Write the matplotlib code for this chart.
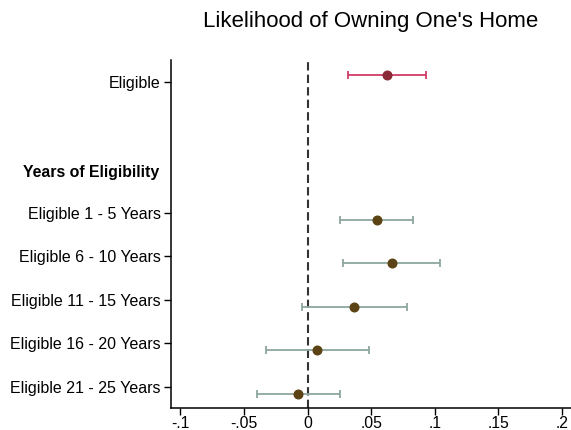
import matplotlib.pyplot as plt

plt.rcParams['font.family'] = ['Liberation Sans', 'DejaVu Sans']

# coefficient estimates with 95% intervals
overall_label = "Eligible"
overall_coef = 0.0623
overall_lo = 0.0319
overall_hi = 0.0932

group_header = "Years of Eligibility"
group_labels = ["Eligible 1 - 5 Years", "Eligible 6 - 10 Years",
                "Eligible 11 - 15 Years", "Eligible 16 - 20 Years",
                "Eligible 21 - 25 Years"]
group_coef = [0.0542, 0.0660, 0.0364, 0.0075, -0.0074]
group_lo = [0.0254, 0.0278, -0.0045, -0.0330, -0.0401]
group_hi = [0.0830, 0.1043, 0.0778, 0.0482, 0.0254]

x_ticks = [-0.1, -0.05, 0, 0.05, 0.1, 0.15, 0.2]
x_ticklabels = ["-.1", "-.05", "0", ".05", ".1", ".15", ".2"]

# row positions, top row first
overall_pos = 8
header_pos = 5.92
group_pos = [5, 4, 3, 2, 1]
offset = 0.16

fig = plt.figure(figsize=(5.71, 4.30), dpi=100)
ax = fig.add_axes([170.5 / 571, 1 - 408 / 430, 1 - 170.5 / 571, (408 - 60) / 430])

ax.axvline(0, color='#333333', lw=1.5, ls=(0, (4, 2)), zorder=1)

# overall estimate
ax.errorbar([overall_coef], [overall_pos + offset],
            xerr=[[overall_coef - overall_lo], [overall_hi - overall_coef]],
            fmt='o', color='#8c2a38', ecolor='#d13c64', elinewidth=1.3,
            capsize=3, capthick=1.3, markersize=6.2, zorder=3)

# estimates by years of eligibility
yg = [p - offset for p in group_pos]
xerr = [[c - l for c, l in zip(group_coef, group_lo)],
        [h - c for c, h in zip(group_coef, group_hi)]]
ax.errorbar(group_coef, yg, xerr=xerr,
            fmt='o', color='#5c4315', ecolor='#8ea79e', elinewidth=1.3,
            capsize=3, capthick=1.3, markersize=6.2, zorder=3)

ax.set_xlim(-0.1077, 0.207)
ax.set_ylim(0.52, 8.5)

ax.set_xticks(x_ticks)
ax.set_xticklabels(x_ticklabels, fontsize=11.3)
ax.set_yticks([overall_pos] + group_pos)
ax.set_yticklabels([overall_label] + group_labels, fontsize=11.5)
ax.tick_params(axis='y', length=5, width=1, color='black', pad=2)
ax.tick_params(axis='x', length=5, width=1, color='black', pad=0.5)

# bold header without a tick mark
ax.text(-0.027, header_pos, group_header, transform=ax.get_yaxis_transform(),
        ha='right', va='center', fontsize=11.4, fontweight='bold')

for side in ['top', 'right']:
    ax.spines[side].set_visible(False)
for side in ['left', 'bottom']:
    ax.spines[side].set_linewidth(1.1)
    ax.spines[side].set_color('black')

fig.text(371 / 571, 1 - 22 / 430, "Likelihood of Owning One's Home",
         ha='center', va='center', fontsize=16)

fig.savefig("out.png", dpi=100)
